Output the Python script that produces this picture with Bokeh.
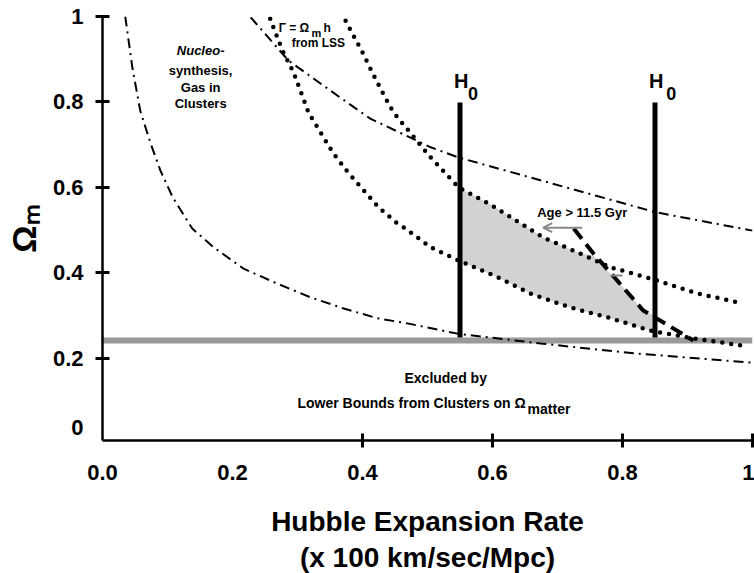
import math
from bokeh.plotting import figure
from bokeh.models import Range1d, LinearAxis, FixedTicker, Label, Title, Arrow, OpenHead
from bokeh.embed import file_html
from bokeh.resources import INLINE

# ---------------- data ----------------
# Nucleosynthesis / gas-in-clusters bounds (dash-dot)
nuc_lo_x = [0.035, 0.046, 0.058, 0.074, 0.089, 0.108, 0.138, 0.171, 0.217, 0.269,
            0.32, 0.371, 0.423, 0.469, 0.546, 0.674, 0.817, 1.0]
nuc_lo_y = [1.0, 0.88, 0.78, 0.703, 0.64, 0.577, 0.504, 0.46, 0.41, 0.375,
            0.343, 0.317, 0.294, 0.282, 0.258, 0.235, 0.212, 0.19]
nuc_hi_x = [0.228, 0.286, 0.366, 0.412, 0.505, 0.548, 0.851, 1.0]
nuc_hi_y = [0.998, 0.897, 0.81, 0.761, 0.694, 0.67, 0.542, 0.499]

# Gamma = Omega_m h from LSS bounds (dotted)
gam_lo_x = [0.258, 0.263, 0.277, 0.294, 0.317, 0.355, 0.378, 0.402, 0.425, 0.452,
            0.466, 0.505, 0.548, 0.608, 0.658, 0.72, 0.782, 0.843, 0.909, 0.985]
gam_lo_y = [0.995, 0.974, 0.92, 0.869, 0.775, 0.68, 0.635, 0.593, 0.553, 0.518,
            0.504, 0.46, 0.429, 0.39, 0.352, 0.319, 0.294, 0.265, 0.247, 0.23]
gam_hi_x = [0.374, 0.382, 0.4, 0.415, 0.435, 0.448, 0.505, 0.548, 0.597, 0.632,
            0.678, 0.731, 0.782, 0.843, 0.915, 0.985]
gam_hi_y = [0.99, 0.967, 0.916, 0.869, 0.81, 0.775, 0.67, 0.6, 0.56, 0.527,
            0.483, 0.448, 0.413, 0.387, 0.352, 0.329]

# Age > 11.5 Gyr bound (dashed)
age_x = [0.725, 0.755, 0.792, 0.832, 0.863, 0.909]
age_y = [0.504, 0.446, 0.382, 0.312, 0.284, 0.242]

# allowed (shaded) region
shade_x = [0.55, 0.597, 0.632, 0.678, 0.731, 0.755, 0.792, 0.832, 0.85, 0.85,
           0.782, 0.72, 0.658, 0.608, 0.55]
shade_y = [0.598, 0.56, 0.527, 0.483, 0.448, 0.44, 0.382, 0.312, 0.30, 0.262,
           0.294, 0.319, 0.352, 0.39, 0.428]

# H0 range
h0_x = [0.55, 0.85]
h0_top = 0.799
h0_bottom = 0.249

# cluster lower bound band
band_lo = 0.235
band_hi = 0.249

# ticks
x_tick_marks = [0.4, 0.6, 0.8, 1.0]
x_tick_vals = [0.0, 0.2, 0.4, 0.6, 0.8, 1.0]
x_tick_text = ["0.0", "0.2", "0.4", "0.6", "0.8", "1"]
y_tick_marks = [0.2, 0.4, 0.6, 0.8, 1.0]
y_tick_vals = [0.038, 0.2, 0.4, 0.6, 0.8, 1.0]
y_tick_text = ["0", "0.2", "0.4", "0.6", "0.8", "1"]

FONT = "Liberation Sans"

p = figure(width=754, height=573, x_range=Range1d(0, 1), y_range=Range1d(0.008, 1.0),
           output_backend="svg", toolbar_location=None,
           x_axis_location=None, y_axis_location=None,
           min_border_left=102, min_border_right=2, min_border_top=16, min_border_bottom=133)
p.grid.visible = False
p.outline_line_color = None
p.background_fill_color = "white"
p.border_fill_color = "white"

# ---------- axes ----------
def tick_axis(ticks):
    return LinearAxis(ticker=FixedTicker(ticks=ticks, minor_ticks=[]),
                      major_tick_in=7, major_tick_out=7, major_tick_line_width=3,
                      major_tick_line_color="black", axis_line_width=2.5,
                      axis_line_color="black", minor_tick_line_color=None,
                      major_label_text_font_size="0px", major_label_standoff=0,
                      major_label_overrides={t: "" for t in ticks})

def label_axis(vals, texts, standoff):
    return LinearAxis(ticker=FixedTicker(ticks=vals, minor_ticks=[]),
                      major_label_overrides={v: s for v, s in zip(vals, texts)},
                      axis_line_color=None, major_tick_line_color=None,
                      major_tick_in=0, major_tick_out=0, minor_tick_line_color=None,
                      major_label_standoff=standoff, major_label_text_font=FONT,
                      major_label_text_font_style="bold", major_label_text_font_size="22px",
                      major_label_text_color="black")

p.add_layout(tick_axis(x_tick_marks), "below")
xl = label_axis(x_tick_vals, x_tick_text, 17)
xl.axis_label = "Hubble Expansion Rate"
xl.axis_label_text_font = FONT
xl.axis_label_text_font_size = "28px"
xl.axis_label_text_font_style = "bold"
xl.axis_label_text_color = "black"
xl.axis_label_standoff = 23
p.add_layout(xl, "below")
p.add_layout(Title(text="(x 100 km/sec/Mpc)", align="center", text_font=FONT,
                   text_font_size="28px", text_font_style="bold", text_color="black",
                   standoff=0, offset=0), "below")

p.add_layout(tick_axis(y_tick_marks), "left")
yl = label_axis(y_tick_vals, y_tick_text, 12)
yl.axis_label = "Ωₘ"
yl.axis_label_text_font = FONT
yl.axis_label_text_font_size = "34px"
yl.axis_label_text_font_style = "bold"
yl.axis_label_text_color = "black"
yl.axis_label_standoff = 7
p.add_layout(yl, "left")

# ---------- regions ----------
p.patch(shade_x, shade_y, fill_color="#d2d2d2", line_color=None)
p.quad(left=[0], right=[1], bottom=[band_lo], top=[band_hi], fill_color="#9a9a9a", line_color=None)

# ---------- curves ----------
p.line(nuc_lo_x, nuc_lo_y, line_color="black", line_width=2, line_dash="10 5 2 5")
p.line(nuc_hi_x, nuc_hi_y, line_color="black", line_width=2, line_dash="10 5 2 5")
p.line(gam_lo_x, gam_lo_y, line_color="black", line_width=4.5, line_dash="0 9", line_cap="round")
p.line(gam_hi_x, gam_hi_y, line_color="black", line_width=4.5, line_dash="0 9", line_cap="round")
p.line(age_x, age_y, line_color="black", line_width=4, line_dash="13 7")

p.segment(x0=h0_x, y0=[h0_bottom] * 2, x1=h0_x, y1=[h0_top] * 2, line_color="black", line_width=5)

p.add_layout(Arrow(end=OpenHead(size=9, line_color="#888888", line_width=2),
                   x_start=0.738, y_start=0.506, x_end=0.678, y_end=0.506,
                   line_color="#888888", line_width=2))
p.segment(x0=[0.782], y0=[0.394], x1=[0.80], y1=[0.394], line_color="#888888", line_width=2)

# ---------- texts ----------
def lab(x, y, text, size, align="center", style="bold", angle=0.0):
    p.add_layout(Label(x=x, y=y, text=text, text_font=FONT, text_font_size=size,
                       text_font_style=style, text_align=align, text_baseline="middle",
                       text_color="black", angle=angle))

lab(0.151, 0.920, "Nucleo-", "13px", style="bold italic")
lab(0.151, 0.874, "synthesis,", "13px")
lab(0.151, 0.834, "Gas in", "13px")
lab(0.151, 0.796, "Clusters", "13px")

lab(0.318, 0.974, "Γ = Ω", "12px", align="right")
lab(0.3215, 0.962, "m", "11px", align="left")
lab(0.34, 0.974, "h", "12px", align="left")
lab(0.332, 0.937, "from LSS", "12px")

lab(0.738, 0.541, "Age > 11.5 Gyr", "13px")

lab(0.528, 0.155, "Excluded by", "14px")
lab(0.651, 0.0946, "Lower Bounds from Clusters on Ω", "14px", align="right")
lab(0.654, 0.081, "matter", "14px", align="left")

for hx, sx in zip(h0_x, [0.570, 0.875]):
    lab(hx + 0.002, 0.849, "H", "20px")
    lab(sx, 0.821, "0", "18px")

open("out.html", "w").write(file_html(p, INLINE))
